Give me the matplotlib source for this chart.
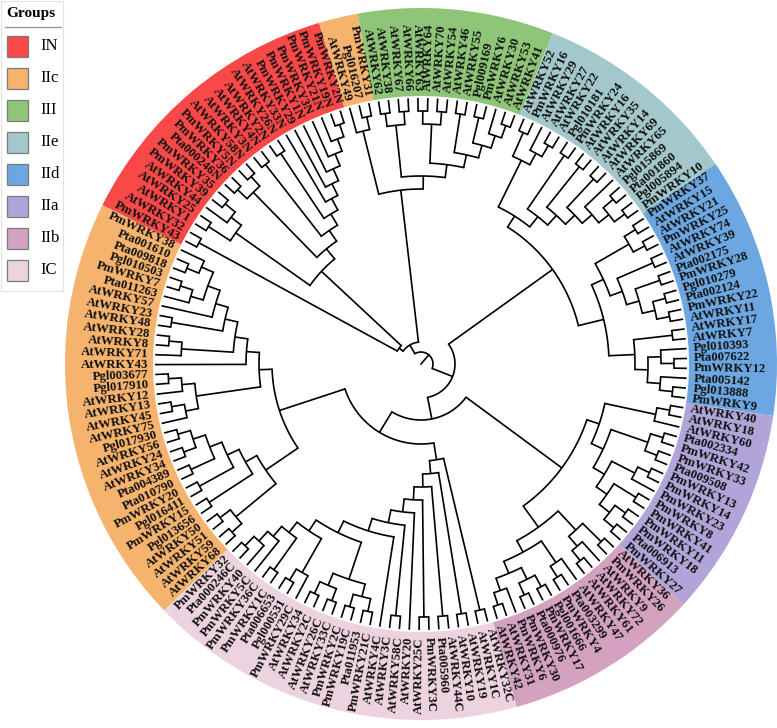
import numpy as np
import matplotlib

matplotlib.use("Agg")
import matplotlib.pyplot as plt
from matplotlib.patches import Wedge, Rectangle

# ---------------------------------------------------------------------------
# Data: subtrees, children listed clockwise (screen), leaves are strings
# ---------------------------------------------------------------------------

IN_A = ["PmWRKY43", "AtWRKY32"]
IN_B = [[["AtWRKY1", "AtWRKY25"], ["AtWRKY44", ["PmWRKY39", "PmWRKY35"]]],
        [[["Pta000246N", "PmWRKY36"], ["PmWRKY5N", "AtWRKY58N"]],
         [["AtWRKY3N", "AtWRKY4N"],
          [["AtWRKY2N", "AtWRKY26N"],
           ["AtWRKY33N", ["PmWRKY29", ["PmWRKY1N", ["PmWRKY3N",
                                                    ["PmWRKY21N", ["PmWRKY19N", "PmWRKY2N"]]]]]]]]]]
IIC_SMALL = ["AtWRKY49", ["Pgl016207", "PmWRKY31"]]
III = [[["AtWRKY62", "AtWRKY38"], ["AtWRKY67", "AtWRKY66"]],
       [[["AtWRKY63", "AtWRKY64"], ["AtWRKY70", "AtWRKY54"]],
        [["AtWRKY46", "AtWRKY55"], [["Pgl009169", "PmWRKY6"], ["AtWRKY30", ["AtWRKY53", "AtWRKY41"]]]]]]
IIE = [[["AtWRKY52", "PmWRKY16"], ["AtWRKY29", ["AtWRKY27", "AtWRKY22"]]],
       [["Pgl010181", "PmWRKY24"],
        [["AtWRKY16", "AtWRKY35"],
         [["AtWRKY14", "AtWRKY69"],
          ["AtWRKY65", [["Pgl015869", "Pta001860"], ["Pgl005894", "PmWRKY10"]]]]]]]
IID = [[[["PmWRKY37", "AtWRKY15"], ["AtWRKY21", "PmWRKY25"]],
        [["AtWRKY74", "AtWRKY39"],
         [["Pta002175", "PmWRKY28"], [["Pgl010279", "Pta002124"], ["PmWRKY22", "AtWRKY11"]]]]],
       [["AtWRKY17", "AtWRKY7"],
        [["Pgl010393", ["Pta007622", "PmWRKY12"]], ["Pta005142", ["Pgl013888", "PmWRKY9"]]]]]
IIA = [[["AtWRKY40", "AtWRKY18"], "AtWRKY60"],
       [[["Pta002334", "PmWRKY42"], ["PmWRKY33", "Pta009508"]],
        [[["PmWRKY13", "PmWRKY14"], "PmWRKY23"],
         [["PmWRKY8", "PmWRKY41"], [["PmWRKY11", "PmWRKY18"], ["Pta006913", "PmWRKY27"]]]]]]
IIB = [[["AtWRKY36", "PmWRKY26"], ["AtWRKY9", ["AtWRKY72", "AtWRKY61"]]],
       [["AtWRKY47", ["Pta003299", "PmWRKY4"]],
        [[["Pgl001666", "PmWRKY17"], ["Pta000976", "PmWRKY30"]],
         ["PmWRKY6", ["AtWRKY31", "AtWRKY42"]]]]]
IC_LEFT = [[[["PmWRKY21C", "Pta011953"], ["PmWRKY19C", "PmWRKY2C"]],
            [["AtWRKY33C", "AtWRKY26C"], ["AtWRKY2C", "AtWRKY34"]]],
           [["PmWRKY29C", ["Pgl000531", "Pta006653"]],
            [["PmWRKY1C", "PmWRKY36C"], ["PmWRKY5C", ["PmWRKY40", ["Pta000246C", "PmWRKY32"]]]]]]
IC = [["AtWRKY32C", "AtWRKY1C"],
      [["AtWRKY19", "AtWRKY10"],
       [["AtWRKY44C", "Pta005960"],
        [["PmWRKY3C", "AtWRKY25C"],
         ["AtWRKY20", [["AtWRKY58C", "AtWRKY3C"], ["AtWRKY4C", IC_LEFT]]]]]]]
IIC_LOWER = [[["AtWRKY68", "AtWRKY59"], ["AtWRKY51", "AtWRKY50"]],
             [["Pgl013656", "PmWRKY15"],
              [["Pgl016411", "PmWRKY20"],
               [["Pta010790", "Pta004389"], [["AtWRKY34", "AtWRKY24"], ["AtWRKY56", "Pgl017930"]]]]]]
IIC_MID = [["AtWRKY75", ["AtWRKY45", "AtWRKY13"]], ["AtWRKY12", ["Pgl017910", "Pgl003677"]]]
IIC_UPPER = ["AtWRKY43",
             [["AtWRKY71", ["AtWRKY8", "AtWRKY28"]],
              [["AtWRKY48", "AtWRKY23"],
               ["AtWRKY57", [["Pta011263", ["PmWRKY7", "Pgl010503"]],
                             [["Pta009818", "Pta001610"], "PmWRKY38"]]]]]]
IIC_BIG = [IIC_LOWER, [IIC_MID, IIC_UPPER]]

# backbone: (branch-point radius, children)
TREE = (12, [(22, [(27, [IN_A, IN_B]), [IIC_SMALL, III]]),
             (34, [[IIE, IID], (56, [[IIA, IIB], (80, [IC, IIC_BIG])])])])

GROUPS = ["IN", "IIc", "III", "IIe", "IId", "IIa", "IIb", "IC"]
GROUP_COLORS = ["#F84848", "#F5B36E", "#8EC578", "#A3C7CA", "#6CA7E1", "#B1A4D9", "#D3A2C0", "#ECD3DF"]
# ring segments clockwise
RING = [("IN", [IN_A, IN_B]), ("IIc", [IIC_SMALL]), ("III", [III]), ("IIe", [IIE]),
        ("IId", [IID]), ("IIa", [IIA]), ("IIb", [IIB]), ("IC", [IC]), ("IIc", [IIC_BIG])]

# ---------------------------------------------------------------------------
# Layout
# ---------------------------------------------------------------------------

CX, CY = 421, 364
R_LEAF = 266
R_LABEL = 273
R_IN, R_OUT = 268, 356
STEP_R = 13
START = 206.5
SERIF = "Liberation Serif"


def kids(n):
    return n[1] if isinstance(n, tuple) else n


def leaf_list(n):
    if isinstance(n, str):
        return [n]
    return [l for c in kids(n) for l in leaf_list(c)]


def height(n):
    if isinstance(n, str):
        return 0
    return 1 + max(height(c) for c in kids(n))


def xy(r, th):
    t = np.radians(th)
    return CX + r * np.cos(t), CY + r * np.sin(t)


n_leaves = len(leaf_list(TREE))
d = 360.0 / n_leaves

fig = plt.figure(figsize=(7.77, 7.28), dpi=100)
ax = fig.add_axes([0, 0, 1, 1])
ax.set_xlim(0, 777)
ax.set_ylim(728, 0)
ax.axis("off")

# coloured ring
k = 0
for grp, parts in RING:
    n = sum(len(leaf_list(p)) for p in parts)
    t1 = START + d * k
    t2 = START + d * (k + n)
    col = GROUP_COLORS[GROUPS.index(grp)]
    ax.add_patch(Wedge((CX, CY), R_OUT, t1, t2, width=R_OUT - R_IN, facecolor=col,
                       edgecolor="none", zorder=1))
    k += n

LW = 1.2
counter = [0]


def label(name, th):
    x, y = xy(R_LABEL, th)
    if np.cos(np.radians(th)) >= 0:
        rot, ha = -th, "left"
    else:
        rot, ha = 180 - th, "right"
    ax.text(x, y, name, rotation=rot % 360, rotation_mode="anchor", ha=ha, va="center",
            fontsize=9.2, fontweight="bold", family=SERIF, color="#111", zorder=3)


def draw(n):
    if isinstance(n, str):
        th = START + d * (counter[0] + 0.5)
        counter[0] += 1
        label(n, th)
        return th, R_LEAF
    pts = [draw(c) for c in kids(n)]
    r = n[0] if isinstance(n, tuple) else R_LEAF - STEP_R * height(n)
    a1, a2 = pts[0][0], pts[-1][0]
    ts = np.linspace(a1, a2, max(2, int(abs(a2 - a1) * 2)))
    ax.plot(*xy(r, ts), color="black", lw=LW, solid_capstyle="projecting", zorder=2)
    for th, rc in pts:
        x0, y0 = xy(r, th)
        x1, y1 = xy(rc, th)
        ax.plot([x0, x1], [y0, y1], color="black", lw=LW, solid_capstyle="butt", zorder=2)
    return (a1 + a2) / 2, r


th0, r0 = draw(TREE)
x0, y0 = xy(r0, th0)
x1, y1 = xy(0, th0)
ax.plot([x1, x0], [y1, y0], color="black", lw=LW, zorder=2)

# legend
ax.add_patch(Rectangle((1, 1), 62, 290, facecolor="white", edgecolor="#e2e2e2", lw=0.8, zorder=4))
ax.text(31, 14, "Groups", ha="center", va="center", fontsize=11, fontweight="bold",
        family=SERIF, zorder=5)
ax.plot([5, 61], [27, 27], color="#999", lw=1.0, zorder=5)
for i, (g, c) in enumerate(zip(GROUPS, GROUP_COLORS)):
    y = 36 + 32 * i
    ax.add_patch(Rectangle((7, y), 21, 21, facecolor=c, edgecolor="#7a7a7a", lw=0.9, zorder=5))
    ax.text(40, y + 10.5, g, ha="left", va="center", fontsize=12, family=SERIF, zorder=5)

fig.savefig("out.png", dpi=100)
